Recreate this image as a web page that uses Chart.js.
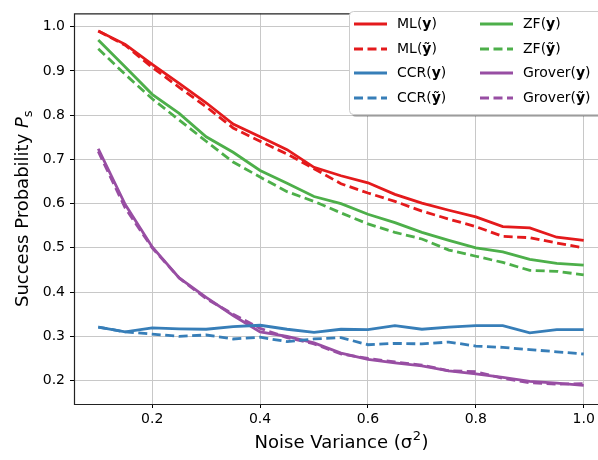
<!DOCTYPE html>
<html>
<head>
<meta charset="utf-8">
<script src="https://cdn.jsdelivr.net/npm/chart.js@4.4.1/dist/chart.umd.min.js"></script>
<style>
  html, body { margin: 0; padding: 0; overflow: hidden; background: #fff; }
</style>
</head>
<body>
<canvas id="chart" width="598" height="460"></canvas>
<script>
const noiseVar = [0.1, 0.15, 0.2, 0.25, 0.3, 0.35, 0.4, 0.45, 0.5, 0.55, 0.6, 0.65, 0.7, 0.75, 0.8, 0.85, 0.9, 0.95, 1.0];

const mlY = [0.99, 0.96, 0.915, 0.872, 0.828, 0.78, 0.751, 0.722, 0.682, 0.663, 0.647, 0.621, 0.601, 0.585, 0.57, 0.548, 0.545, 0.524, 0.517];
const mlYt = [0.99, 0.958, 0.908, 0.863, 0.819, 0.771, 0.741, 0.712, 0.679, 0.645, 0.624, 0.605, 0.583, 0.565, 0.548, 0.526, 0.523, 0.511, 0.5];
const ccrY = [0.321, 0.31, 0.319, 0.317, 0.316, 0.322, 0.325, 0.316, 0.309, 0.316, 0.315, 0.324, 0.316, 0.321, 0.324, 0.324, 0.308, 0.315, 0.315];
const ccrYt = [0.321, 0.31, 0.305, 0.3, 0.303, 0.294, 0.298, 0.288, 0.294, 0.297, 0.281, 0.284, 0.283, 0.287, 0.278, 0.275, 0.27, 0.265, 0.26];
const zfY = [0.97, 0.909, 0.847, 0.804, 0.751, 0.716, 0.675, 0.646, 0.616, 0.6, 0.576, 0.557, 0.535, 0.517, 0.5, 0.491, 0.474, 0.465, 0.461];
const zfYt = [0.95, 0.892, 0.837, 0.789, 0.741, 0.694, 0.66, 0.627, 0.605, 0.579, 0.554, 0.535, 0.52, 0.495, 0.481, 0.467, 0.449, 0.447, 0.439];
const groverY = [0.724, 0.598, 0.502, 0.432, 0.388, 0.347, 0.31, 0.3, 0.285, 0.262, 0.248, 0.24, 0.233, 0.222, 0.215, 0.207, 0.198, 0.194, 0.189];
const groverYt = [0.718, 0.59, 0.5, 0.432, 0.385, 0.35, 0.318, 0.297, 0.283, 0.26, 0.25, 0.242, 0.235, 0.222, 0.22, 0.205, 0.195, 0.192, 0.193];

const xTicks = [0.2, 0.4, 0.6, 0.8, 1.0];
const yTicks = [0.2, 0.3, 0.4, 0.5, 0.6, 0.7, 0.8, 0.9, 1.0];

const FONT = '"DejaVu Sans", sans-serif';

function series(name, tilde, data, color) {
  return {
    label: name + '(' + (tilde ? 'ỹ' : 'y') + ')',
    name, tilde,
    data: noiseVar.map((x, i) => ({ x, y: data[i] })),
    borderColor: color,
    backgroundColor: color,
    borderWidth: 2.8,
    borderDash: tilde ? [9, 4.5] : [],
    pointRadius: 0,
    tension: 0,
    fill: false
  };
}

const datasets = [
  series('ML', false, mlY, '#e41a1c'),
  series('ML', true, mlYt, '#e41a1c'),
  series('CCR', false, ccrY, '#377eb8'),
  series('CCR', true, ccrYt, '#377eb8'),
  series('ZF', false, zfY, '#4daf4a'),
  series('ZF', true, zfYt, '#4daf4a'),
  series('Grover', false, groverY, '#984ea3'),
  series('Grover', true, groverYt, '#984ea3')
];

// frame, axis titles and the two-column legend (mixed bold text)
const decorations = {
  id: 'decorations',
  afterDraw(chart) {
    const ctx = chart.ctx;
    const a = chart.chartArea;
    ctx.save();
    ctx.strokeStyle = '#222';
    ctx.lineWidth = 1.2;
    ctx.beginPath();
    ctx.moveTo(a.right + 2, a.top + 0.5);
    ctx.lineTo(a.left + 0.5, a.top + 0.5);
    ctx.lineTo(a.left + 0.5, a.bottom + 0.5);
    ctx.lineTo(a.right + 2, a.bottom + 0.5);
    ctx.stroke();

    // x title, centred on the full (clipped) axes box
    ctx.fillStyle = '#000';
    ctx.textBaseline = 'alphabetic';
    ctx.font = '18px ' + FONT;
    const t1 = 'Noise Variance (σ', t3 = ')';
    const supFont = '13px ' + FONT;
    let w1 = ctx.measureText(t1).width, w3 = ctx.measureText(t3).width;
    ctx.font = supFont;
    const w2 = ctx.measureText('2').width;
    let x = 341 - (w1 + w2 + w3) / 2;
    const by = 448;
    ctx.font = '18px ' + FONT;
    ctx.textAlign = 'left';
    ctx.fillText(t1, x, by);
    ctx.font = supFont;
    ctx.fillText('2', x + w1 + 0.5, by - 8);
    ctx.font = '18px ' + FONT;
    ctx.fillText(t3, x + w1 + w2 + 1, by);

    // y title
    ctx.save();
    ctx.translate(28, (a.top + a.bottom) / 2);
    ctx.rotate(-Math.PI / 2);
    ctx.font = '18px ' + FONT;
    const s1 = 'Success Probability ';
    const ws1 = ctx.measureText(s1).width;
    ctx.font = 'italic 18px ' + FONT;
    const wp = ctx.measureText('P').width;
    ctx.font = '13px ' + FONT;
    const ws = ctx.measureText('s').width;
    let yx = -(ws1 + wp + ws) / 2;
    ctx.font = '18px ' + FONT;
    ctx.fillText(s1, yx, 0);
    ctx.font = 'italic 18px ' + FONT;
    ctx.fillText('P', yx + ws1, 0);
    ctx.font = '13px ' + FONT;
    ctx.fillText('s', yx + ws1 + wp, 4);
    ctx.restore();

    // legend
    const lx = 349, ly = 11, lw = 262, lh = 103;
    ctx.fillStyle = 'rgba(0,0,0,0.22)';
    roundRect(ctx, lx + 3, ly + 3, lw, lh, 4);
    ctx.fill();
    ctx.fillStyle = '#fff';
    ctx.strokeStyle = '#cccccc';
    ctx.lineWidth = 1;
    roundRect(ctx, lx + 0.5, ly + 0.5, lw, lh, 4);
    ctx.fill();
    ctx.stroke();

    const colX = [354, 480];
    const rowY = [24, 49, 73, 98];
    chart.data.datasets.forEach((ds, i) => {
      const c = Math.floor(i / 4), r = i % 4;
      const hx = colX[c], hy = rowY[r];
      ctx.save();
      ctx.strokeStyle = ds.borderColor;
      ctx.lineWidth = ds.borderWidth;
      ctx.setLineDash(ds.borderDash);
      ctx.beginPath();
      ctx.moveTo(hx, hy);
      ctx.lineTo(hx + 33, hy);
      ctx.stroke();
      ctx.restore();
      ctx.fillStyle = '#000';
      ctx.textBaseline = 'middle';
      let tx = hx + 43;
      ctx.font = '14px ' + FONT;
      ctx.fillText(ds.name + '(', tx, hy);
      tx += ctx.measureText(ds.name + '(').width;
      ctx.font = 'bold 14px ' + FONT;
      const g = ds.tilde ? 'ỹ' : 'y';
      ctx.fillText(g, tx, hy);
      tx += ctx.measureText(g).width;
      ctx.font = '14px ' + FONT;
      ctx.fillText(')', tx, hy);
    });
    ctx.restore();
  }
};

function roundRect(ctx, x, y, w, h, r) {
  ctx.beginPath();
  ctx.moveTo(x + r, y);
  ctx.lineTo(x + w - r, y);
  ctx.arcTo(x + w, y, x + w, y + r, r);
  ctx.lineTo(x + w, y + h - r);
  ctx.arcTo(x + w, y + h, x + w - r, y + h, r);
  ctx.lineTo(x + r, y + h);
  ctx.arcTo(x, y + h, x, y + h - r, r);
  ctx.lineTo(x, y + r);
  ctx.arcTo(x, y, x + r, y, r);
  ctx.closePath();
}

new Chart(document.getElementById('chart'), {
  type: 'line',
  data: { datasets },
  plugins: [decorations],
  options: {
    responsive: false,
    animation: false,
    devicePixelRatio: 1,
    layout: { padding: { top: 4, right: 0, left: 0, bottom: 0 } },
    plugins: { legend: { display: false }, tooltip: { enabled: false } },
    scales: {
      x: {
        type: 'linear',
        min: 0.055,
        max: 1.0265,
        afterBuildTicks: s => { s.ticks = xTicks.map(v => ({ value: v })); },
        afterFit: s => { s.height = 56; },
        ticks: {
          font: { family: FONT, size: 14 },
          color: '#000',
          padding: 3,
          maxRotation: 0,
          callback: v => v.toFixed(1)
        },
        grid: { color: '#c8c8c8', lineWidth: 1, tickColor: '#000', tickLength: 4 },
        border: { display: false }
      },
      y: {
        type: 'linear',
        min: 0.147,
        max: 1.03,
        afterBuildTicks: s => { s.ticks = yTicks.map(v => ({ value: v })); },
        afterFit: s => { s.width = 74; },
        ticks: {
          font: { family: FONT, size: 14 },
          color: '#000',
          padding: 5,
          callback: v => v.toFixed(1)
        },
        grid: { color: '#c8c8c8', lineWidth: 1, tickColor: '#000', tickLength: 4 },
        border: { display: false }
      }
    }
  }
});
</script>
</body>
</html>
